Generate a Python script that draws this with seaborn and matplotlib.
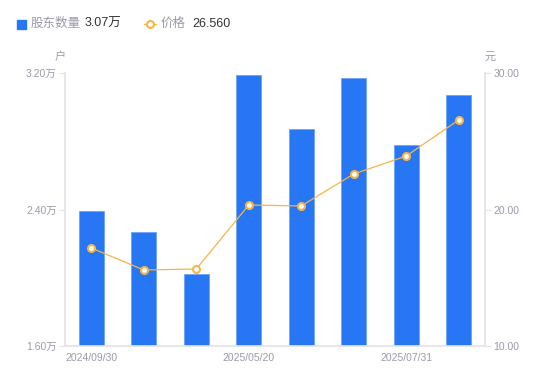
import numpy as np
import pandas as pd
import seaborn as sns
import matplotlib.pyplot as plt
from matplotlib.lines import Line2D
from matplotlib.patches import Rectangle

# data
tick_labels = ["2024/09/30", "", "", "2025/05/20", "", "", "2025/07/31", ""]
holders = [2.39, 2.27, 2.02, 3.19, 2.87, 3.17, 2.78, 3.07]   # 万户
price = [17.18, 15.57, 15.64, 20.33, 20.26, 22.60, 23.92, 26.56]  # 元

blue = "#2777F4"
orange = "#F8B544"
grey = "#9a9aac"
axis_grey = "#e3e3e8"

sns.set_theme(style="white")
plt.rcParams['font.family'] = ['Liberation Sans', 'Noto Sans CJK SC', 'DejaVu Sans']

df = pd.DataFrame({"idx": range(len(holders)), "holders": holders, "price": price})

fig = plt.figure(figsize=(5.5, 3.81), dpi=100)
ax = fig.add_axes([65 / 550, 35 / 381, 420 / 550, 273 / 381])

sns.barplot(data=df, x="idx", y="holders", color=blue, width=0.48,
            edgecolor="#6fa3f7", linewidth=0.6, saturation=1, ax=ax)
ax.set_ylim(1.6, 3.2)
ax.set_xlim(-0.5, len(holders) - 0.5)
ax.set_yticks([1.6, 2.4, 3.2])
ax.set_yticklabels([f"{v:.2f}万" for v in [1.6, 2.4, 3.2]])
ax.set_xticks(range(len(holders)))
ax.set_xticklabels(tick_labels)
ax.set_xlabel("")
ax.set_ylabel("")

ax2 = ax.twinx()
sns.lineplot(data=df, x="idx", y="price", color=orange, linewidth=0.9,
             marker="o", markersize=5, markerfacecolor="white",
             markeredgecolor=orange, markeredgewidth=1.5, ax=ax2)
ax2.set_ylim(10, 30)
ax2.set_yticks([10, 20, 30])
ax2.set_yticklabels([f"{v:.2f}" for v in [10, 20, 30]])
ax2.set_ylabel("")
ax2.set_xlabel("")

for a in (ax, ax2):
    for s in a.spines.values():
        s.set_visible(False)
    a.tick_params(axis="both", colors=axis_grey, labelcolor=grey, labelsize=7.5,
                  length=4, width=0.8)
ax.spines["left"].set_visible(True)
ax.spines["left"].set_color(axis_grey)
ax.spines["bottom"].set_visible(True)
ax.spines["bottom"].set_color(axis_grey)
ax2.spines["right"].set_visible(True)
ax2.spines["right"].set_color(axis_grey)
ax.tick_params(axis="x", length=0, pad=5)
ax.tick_params(axis="y", pad=2)
ax2.tick_params(axis="y", pad=2)

# unit labels
fig.text(60 / 550, 1 - 57 / 381, "户", color=grey, fontsize=8, ha="center", va="center")
fig.text(490 / 550, 1 - 57 / 381, "元", color=grey, fontsize=8, ha="center", va="center")

# legend at the top
y = 1 - 24 / 381
fig.add_artist(Rectangle((17 / 550, 1 - 29 / 381), 9 / 550, 9 / 381,
                         transform=fig.transFigure, color=blue))
fig.text(31 / 550, y, "股东数量", color=grey, fontsize=9, va="center")
fig.text(85 / 550, y, "3.07万", color="#333333", fontsize=9, va="center")
fig.add_artist(Line2D([144 / 550, 156 / 550], [y, y], transform=fig.transFigure,
                      color=orange, linewidth=1))
fig.add_artist(Line2D([150 / 550], [y], transform=fig.transFigure, marker="o",
                      markersize=5, markerfacecolor="white", markeredgecolor=orange,
                      markeredgewidth=1.5))
fig.text(161 / 550, y, "价格", color=grey, fontsize=9, va="center")
fig.text(192 / 550, y, "26.560", color="#333333", fontsize=9, va="center")

fig.savefig("out.png", dpi=100)
